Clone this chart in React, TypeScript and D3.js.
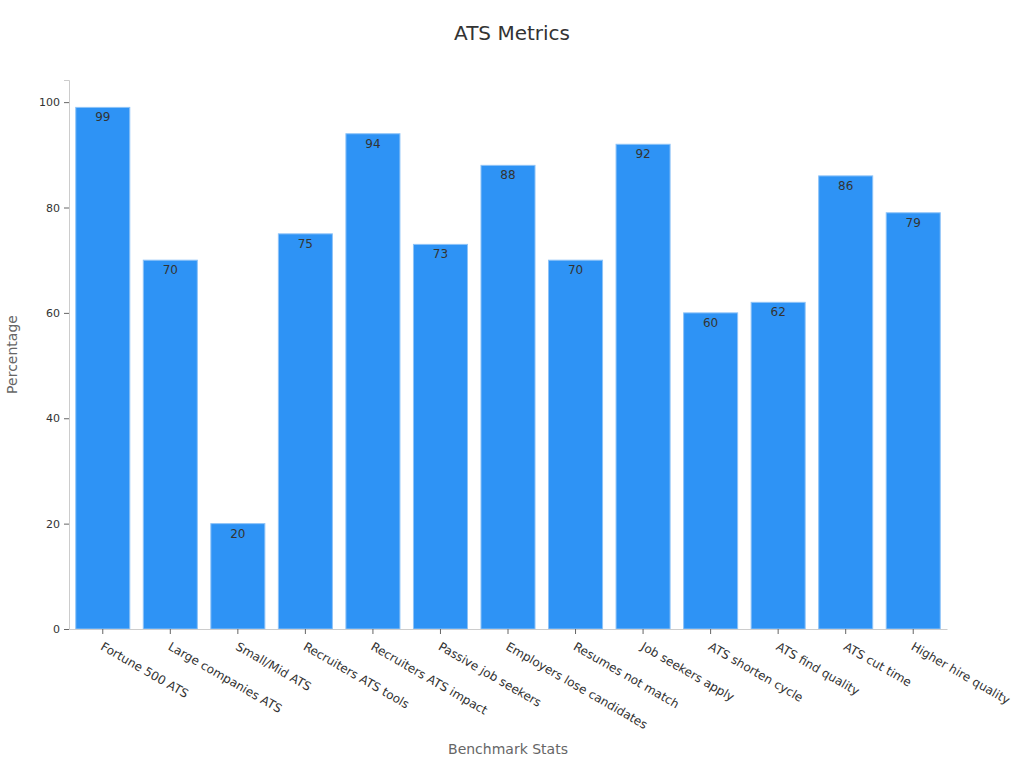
import {useEffect, useRef} from 'react';
import * as d3 from 'd3';

const categories = [
  'Fortune 500 ATS',
  'Large companies ATS',
  'Small/Mid ATS',
  'Recruiters ATS tools',
  'Recruiters ATS impact',
  'Passive job seekers',
  'Employers lose candidates',
  'Resumes not match',
  'Job seekers apply',
  'ATS shorten cycle',
  'ATS find quality',
  'ATS cut time',
  'Higher hire quality',
];
const values = [99, 70, 20, 75, 94, 73, 88, 70, 92, 60, 62, 86, 79];
const yTicks = [0, 20, 40, 60, 80, 100];

const WIDTH = 1024;
const HEIGHT = 768;

const App = () => {
  const svgRef = useRef<SVGSVGElement | null>(null);

  useEffect(() => {
    if (!svgRef.current) return;
    const margin = {top: 80, right: 77, bottom: 139, left: 69};
    const svg = d3.select(svgRef.current);
    svg.selectAll('*').remove();

    const x = d3
      .scaleBand()
      .domain(categories)
      .range([margin.left, WIDTH - margin.right])
      .paddingInner(0.2)
      .paddingOuter(0.1);

    const y = d3
      .scaleLinear()
      .domain([0, 104.2])
      .range([HEIGHT - margin.bottom, margin.top]);

    // title
    svg
      .append('text')
      .attr('x', 512)
      .attr('y', 40)
      .attr('text-anchor', 'middle')
      .attr('font-size', 20)
      .attr('fill', '#333')
      .text('ATS Metrics');

    // bars
    svg
      .append('g')
      .selectAll('rect')
      .data(values)
      .join('rect')
      .attr('x', (_, i) => x(categories[i])!)
      .attr('y', (d) => y(d))
      .attr('width', x.bandwidth())
      .attr('height', (d) => y(0) - y(d))
      .attr('fill', '#2E93F5')
      .attr('stroke', '#8EC3F7')
      .attr('stroke-width', 1);

    // value labels
    svg
      .append('g')
      .selectAll('text')
      .data(values)
      .join('text')
      .attr('x', (_, i) => x(categories[i])! + x.bandwidth() / 2)
      .attr('y', (d) => y(d) + 14)
      .attr('text-anchor', 'middle')
      .attr('font-size', 12)
      .attr('fill', '#333')
      .text((d) => d);

    // y axis
    const yAxis = svg
      .append('g')
      .attr('transform', `translate(${margin.left},0)`)
      .call(d3.axisLeft(y).tickValues(yTicks).tickSize(5).tickPadding(4));
    yAxis.select('.domain').attr('stroke', '#ccc');
    yAxis.selectAll('.tick line').attr('stroke', '#666');
    yAxis
      .selectAll('.tick text')
      .attr('font-size', 11)
      .attr('fill', '#333')
      .attr('font-family', 'DejaVu Sans');

    // x axis
    const xAxis = svg
      .append('g')
      .attr('transform', `translate(0,${HEIGHT - margin.bottom})`)
      .call(d3.axisBottom(x).tickSize(5).tickSizeOuter(0));
    xAxis.select('.domain').attr('stroke', '#ccc');
    xAxis.selectAll('.tick line').attr('stroke', '#666');
    xAxis
      .selectAll('.tick text')
      .attr('font-size', 12)
      .attr('fill', '#333')
      .attr('font-family', 'DejaVu Sans')
      .attr('text-anchor', 'start')
      .attr('dy', 0)
      .attr('transform', 'translate(1,13) rotate(30)');

    // axis titles
    svg
      .append('text')
      .attr('transform', `translate(17,${(y(0) + y(104.2)) / 2}) rotate(-90)`)
      .attr('text-anchor', 'middle')
      .attr('font-size', 14)
      .attr('fill', '#666')
      .text('Percentage');

    svg
      .append('text')
      .attr('x', 508)
      .attr('y', 754)
      .attr('text-anchor', 'middle')
      .attr('font-size', 14)
      .attr('fill', '#666')
      .text('Benchmark Stats');
  }, []);

  return (
    <svg
      ref={svgRef}
      width={WIDTH}
      height={HEIGHT}
      style={{position: 'absolute', left: 0, top: 0, fontFamily: 'DejaVu Sans', background: '#fff'}}
    ></svg>
  );
};

export default App;
